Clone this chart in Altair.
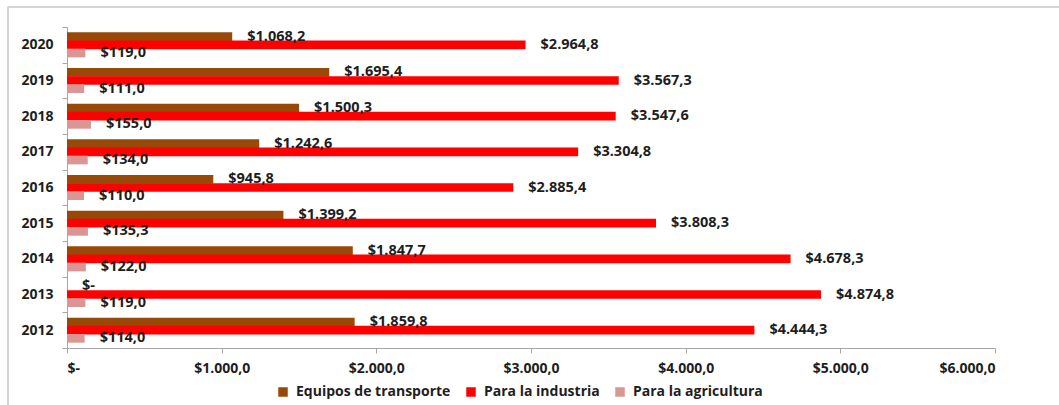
import altair as alt
import pandas as pd

years = ["2012", "2013", "2014", "2015", "2016", "2017", "2018", "2019", "2020"]
series = ["Equipos de transporte", "Para la industria", "Para la agricultura"]
transporte = [1859.8, 0.0, 1847.7, 1399.2, 945.8, 1242.6, 1500.3, 1695.4, 1068.2]
industria = [4444.3, 4874.8, 4678.3, 3808.3, 2885.4, 3304.8, 3547.6, 3567.3, 2964.8]
agricultura = [114.0, 119.0, 122.0, 135.3, 110.0, 134.0, 155.0, 111.0, 119.0]
colors = ["#984807", "#FF0000", "#D99694"]


def fmt(v):
    if v == 0:
        return "$-"
    s = f"{v:,.1f}"
    s = s.replace(",", "#").replace(".", ",").replace("#", ".")
    return "$" + s


rows = []
for name, vals in zip(series, [transporte, industria, agricultura]):
    for y, v in zip(years, vals):
        rows.append({"year": y, "serie": name, "valor": v, "label": fmt(v)})
df = pd.DataFrame(rows)

FONT = "Open Sans"
TXT = "#1e1e1e"
W, H = 928, 321

y_enc = alt.Y(
    "year:N",
    sort=years[::-1],
    scale=alt.Scale(paddingInner=0, paddingOuter=0),
    axis=alt.Axis(
        title=None,
        tickBand="extent",
        tickSize=5,
        tickColor="#a6a6a6",
        domainColor="#a6a6a6",
        labelFont=FONT,
        labelFontWeight="bold",
        labelFontSize=14,
        labelColor=TXT,
        labelPadding=9,
    ),
)
yoff = alt.YOffset("serie:N", sort=series, scale=alt.Scale(paddingOuter=0.68, paddingInner=0))

x_enc = alt.X(
    "valor:Q",
    scale=alt.Scale(domain=[0, 6000], nice=False),
    axis=alt.Axis(
        title=None,
        values=[0, 1000, 2000, 3000, 4000, 5000, 6000],
        grid=False,
        tickSize=5,
        tickColor="#a6a6a6",
        domainColor="#a6a6a6",
        labelFont=FONT,
        labelFontWeight="bold",
        labelFontSize=14,
        labelColor=TXT,
        labelPadding=8,
        labelExpr="datum.value == 0 ? '$-' : '$' + replace(replace(replace(format(datum.value, ',.1f'), ',', '#'), '.', ','), '#', '.')",
    ),
)

color_enc = alt.Color(
    "serie:N",
    sort=series,
    scale=alt.Scale(domain=series, range=colors),
    legend=alt.Legend(
        title=None,
        orient="none",
        direction="horizontal",
        legendX=209,
        legendY=358,
        symbolType="square",
        symbolSize=90,
        symbolStrokeWidth=0,
        labelFont=FONT,
        labelFontWeight="bold",
        labelFontSize=14,
        labelColor=TXT,
        labelOffset=6,
        columnPadding=13,
    ),
)

bars = alt.Chart(df).mark_bar(size=8.7).encode(
    x=x_enc, y=y_enc, yOffset=yoff, color=color_enc
)

labels = alt.Chart(df).mark_text(
    align="left", baseline="middle", dx=15, font=FONT, fontWeight="bold",
    fontSize=14.5, color=TXT
).encode(
    x=alt.X("valor:Q"), y=alt.Y("year:N", sort=years[::-1]),
    yOffset=alt.YOffset("serie:N", sort=series), text="label:N"
)

frame = alt.Chart(pd.DataFrame({"a": [0]})).mark_rect(
    fill=None, stroke="#c8c8c8", strokeWidth=1.5
).encode(
    x=alt.value(-59), x2=alt.value(W + 200), y=alt.value(-20), y2=alt.value(H + 200)
)

chart = alt.layer(bars, labels, frame).properties(
    width=W,
    height=H,
    padding={"left": 67, "top": 27, "right": 64, "bottom": 57},
    autosize=alt.AutoSizeParams(type="none"),
    background="white",
).configure_view(stroke=None)

chart.save("out.html", embed_options={"renderer": "svg", "actions": False})
